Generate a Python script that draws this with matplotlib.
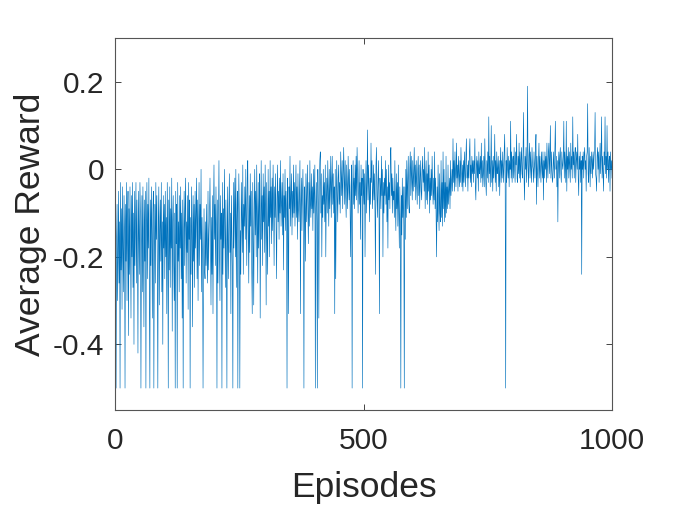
import matplotlib
matplotlib.use("Agg")
import matplotlib.pyplot as plt
import numpy as np

plt.rcParams['font.family'] = ['Liberation Sans', 'DejaVu Sans']
plt.rcParams['axes.unicode_minus'] = False

# average reward per episode, in hundredths (20 episodes per row)
reward_pct = [
    -4, -50, -16, -8, -30, -20, -5, -26, -12, -50, -3, -23, -9, -32, -4, -18, -28, -6, -14, -50,
    -8, -21, -3, -30, -13, -5, -38, -9, -24, -4, -17, -34, -6, -20, -3, -27, -10, -40, -5, -22,
    -12, -3, -26, -7, -18, -42, -5, -15, -24, -3, -10, -50, -19, -6, -28, -4, -16, -36, -7, -21,
    -5, -50, -13, -3, -25, -8, -18, -2, -30, -50, -7, -22, -4, -15, -34, -10, -5, -50, -19, -8,
    -26, -3, -16, -6, -23, -50, -11, -4, -31, -14, -7, -21, -3, -28, -12, -40, -6, -18, -8, -25,
    -5, -20, -11, -33, -3, -15, -50, -7, -23, -4, -27, -9, -18, -2, -37, -12, -6, -22, -30, -10,
    -50, -5, -17, -8, -50, -3, -21, -12, -28, -6, -18, -4, -25, -10, -34, -7, -50, -14, -5, -22,
    -9, -2, -26, -12, -19, -6, -32, -3, -16, -7, -50, -11, -24, -4, -15, -36, -6, -21, -8, -27,
    -5, -18, -10, -2, -25, -7, -30, -13, -3, -22, -8, -16, 0, -28, -11, -20, -50, -22, -9, -23,
    -25, -12, -22, -8, -20, -26, -5, -23, -15, -10, -2, -18, -31, -11, -24, -6, -33, -10, 1, -16,
    -8, -22, -4, -15, -50, -7, -26, -12, 2, -19, -30, -6, -16, -10, -50, -3, -24, -9, -18, 0,
    -12, -27, -7, -20, -50, -4, -16, -25, -9, -1, -19, -10, -33, -6, -14, -23, -50, -3, -18, -9,
    -2, -20, 0, -27, -12, -5, -50, -16, -1, -10, -50, -14, -24, -3, -11, -19, 1, -24, -8, -13,
    -4, -16, 0, -11, -22, -2, 2, -14, -26, -6, -19, -1, -13, -5, -23, -33, -3, -17, -31, -8,
    0, -15, -5, -20, 1, -11, -26, -3, -18, -8, -1, -34, -13, 2, -16, -6, -22, -1, -12, -4,
    -19, 1, -10, -31, -3, -15, -24, 0, -13, -5, -20, 2, -11, -4, -17, -2, -14, 1, -9, -22,
    -4, -11, -1, -14, -25, -7, 1, -12, -5, -16, -2, -10, 2, -13, -8, -3, -15, -1, -23, -6,
    -11, 0, -14, -5, -10, -50, -2, -12, -33, -4, -9, 3, -13, -6, -1, -15, -5, -11, 1, -10,
    -3, -13, -6, 1, -11, -4, -16, -1, -9, -12, -5, 2, -33, -8, -2, -14, -6, 0, -11, -50,
    -4, -9, -21, -1, -12, -5, 1, -10, -17, -3, -13, 2, -8, -11, -1, -9, -4, -14, 0, -10,
    -5, 1, -50, -9, -3, -12, -50, 0, -8, -34, -4, 2, 4, -10, -1, -20, -6, -11, 0, -8,
    -3, -12, 1, -20, -7, -2, -10, 2, -6, -13, 0, -9, -4, 3, -11, -3, 3, -8, -1, -10,
    -4, -33, 0, -25, -9, 2, -6, -12, -2, 1, -8, -3, -10, 4, -1, -6, 2, -9, -2, 5,
    -1, -8, 2, -6, -11, 1, -4, -9, 3, -3, -7, 0, -10, -20, -4, 1, -50, -5, 2, -8,
    -2, -9, 1, -6, 3, -7, 5, -1, -10, -4, 2, -8, -3, -16, 1, -6, -2, -50, 0, -5,
    -8, -1, -20, -5, 2, -10, -3, 9, -7, 1, -4, -12, -2, -8, 6, -3, 2, -9, -5, 1,
    -7, -1, -10, -24, 1, 5, -6, -11, -3, 2, -8, -33, -2, -5, -9, 3, -6, 0, -20, -3,
    -10, -2, -6, 2, -8, 0, -12, -4, -18, 1, -7, -3, -9, 3, 5, -6, -1, -10, -2, -7,
    -5, -11, 2, -8, -14, -1, -9, -3, -13, 1, -10, -18, -4, -12, -50, -6, -15, -2, -11, -4,
    -13, -50, -4, -16, 0, -11, 2, -9, -3, 3, -8, -10, 0, 4, -6, 3, -2, -7, 2, -5,
    -1, 5, -4, 1, -7, 2, -3, -8, 0, 3, -6, 1, -9, -2, 2, -5, -7, 0, 3, -3,
    0, -5, 5, -9, -2, 2, -7, -1, -8, 4, -5, 1, -10, -2, -7, 0, -6, 3, -4, -8,
    -2, -7, 4, -9, -2, -11, -20, -4, -12, 1, -9, -14, -1, -10, -12, 2, -11, -3, -13, 4,
    -9, 0, -12, -3, -11, 3, -10, -4, -9, 1, -8, -5, -2, -9, 2, -6, -3, 0, -5, 7,
    -3, 2, -5, 4, -1, -4, 6, -2, 1, -5, 3, -1, -4, 2, -3, 5, 0, -4, 1, -5,
    2, -3, 4, -1, -4, 3, 7, -2, 1, -5, 2, -2, 4, 7, -3, 1, -4, 3, -1, 2,
    -3, 2, -1, 7, -4, -7, 1, 3, -2, 2, -5, 4, -1, 0, 3, -3, 6, -2, 2, -4,
    -1, 3, -4, 7, 1, -3, -6, 2, -2, 4, -3, 12, -1, 3, -4, 1, 10, -3, 2, -5,
    3, -2, 1, 8, -3, 2, -5, 4, -1, 0, 3, -4, 2, -6, 1, 5, -3, 2, -2, 4,
    0, -3, 4, 8, -2, -50, 2, -3, 5, 0, -2, 3, -4, 2, 0, 11, -2, 4, -3, 2,
    3, -2, 5, 0, -3, 4, 1, 8, -2, -3, 3, -1, 6, -2, 4, -3, 2, 5, -1, -2,
    4, 13, -2, -7, 3, 0, 5, -3, 2, 19, 1, -4, 3, 6, -2, 4, 0, -3, 5, 1,
    0, -3, 4, 1, -2, 5, 8, -8, 3, 0, -4, 2, 6, -2, 3, 0, -3, 4, 1, -2,
    4, -7, 2, -2, 4, 0, 3, -3, 6, 1, -2, 4, 6, -1, 3, 10, -2, 4, 0, -3,
    -2, 4, 1, -2, 5, 11, 0, 3, -4, 2, -12, 1, 4, -2, 3, 5, -1, -3, 4, 1,
    0, 3, 11, -2, 4, 1, -3, 11, -5, 3, 0, 5, -2, 4, 1, -3, 6, 0, 3, -2,
    12, 1, 4, -2, 3, 5, -3, 2, 4, 0, 8, -2, -6, 3, 0, 4, -3, 2, -24, 3,
    0, 4, -2, 3, 5, 0, 2, -5, 3, 4, 15, -1, -3, 5, 1, -4, 3, -1, 4, 2,
    -2, 4, 0, 3, 5, 13, -1, -2, -5, 3, 5, 0, 4, -3, 2, 6, -1, 3, 12, -2,
    3, -1, -5, 4, 1, 12, -1, 3, -2, 10, 0, 4, -3, 2, 3, -5, 4, 0, 2, -2,
]
reward = np.array(reward_pct) / 100.0
episodes = np.arange(1, len(reward) + 1)

xticks = [0, 500, 1000]
yticks = [-0.4, -0.2, 0, 0.2]
ytick_labels = ['-0.4', '-0.2', '0', '0.2']

fig = plt.figure(figsize=(6.77, 5.08), dpi=100)
ax = fig.add_axes([0.170, 0.193, 0.734, 0.732])

ax.plot(episodes, reward, color='#0072BD', linewidth=0.45)

ax.set_xlim(0, 1000)
ax.set_ylim(-0.55, 0.3)
ax.set_xticks(xticks)
ax.set_xticklabels([str(t) for t in xticks])
ax.set_yticks(yticks)
ax.set_yticklabels(ytick_labels)

axis_color = '#262626'
for s in ax.spines.values():
    s.set_color('#555555')
    s.set_linewidth(0.8)
ax.tick_params(direction='in', length=4, width=0.6, colors=axis_color,
               labelsize=21.5, top=True, right=True)
ax.tick_params(axis='x', pad=12)
ax.tick_params(axis='y', pad=8)

ax.set_xlabel('Episodes', fontsize=25.5, color=axis_color, labelpad=12)
ax.set_ylabel('Average Reward', fontsize=25.5, color=axis_color, labelpad=4)

fig.savefig('out.png', dpi=100)
